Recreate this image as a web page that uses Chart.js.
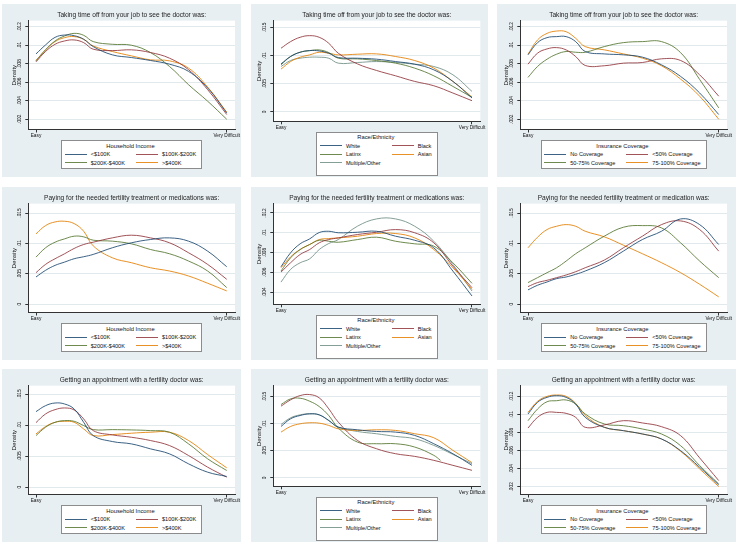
<!DOCTYPE html>
<html><head><meta charset="utf-8">
<script src="https://cdn.jsdelivr.net/npm/chart.js@4.4.1/dist/chart.umd.min.js"></script>
<style>
html,body{margin:0;padding:0;background:#fff;}
body{width:738px;height:548px;position:relative;overflow:hidden;font-family:"Liberation Sans",Arial,sans-serif;}
.panel{position:absolute;background:#E8EFF2;}
.panel canvas{position:absolute;left:0;top:0;}
.legend{position:absolute;background:#fff;border:1px solid #8C8C8C;box-sizing:border-box;display:grid;grid-template-columns:auto auto;column-gap:11px;grid-auto-rows:8.5px;padding:0.5px 5px 0.5px 2.6px;color:#111;font-size:5.6px;}
.legend .lt{grid-column:1 / span 2;text-align:center;font-size:5.8px;line-height:8.5px;color:#111;}
.legend .it{display:flex;align-items:center;white-space:nowrap;line-height:8.5px;}
.legend .key{display:inline-block;width:22px;height:0;border-top:1px solid;margin-right:4px;}
</style></head>
<body>
<script>
// ---------- data ----------
const xGrid = [0, 5, 10, 15, 20, 25, 30, 40, 50, 60, 70, 80, 90, 100];
const xGridLatinxAppt = [0, 5, 10, 15, 20, 25, 30, 40, 50, 60, 70, 80, 83.5];
const xTickValues = [0, 100];
const xTickLabels = ['Easy', 'Very Difficult'];

const incomeGroups = ['<$100K', '$100K-$200K', '$200K-$400K', '>$400K'];
const raceGroups = ['White', 'Black', 'Latinx', 'Asian', 'Multiple/Other'];
const insuranceGroups = ['No Coverage', '<50% Coverage', '50-75% Coverage', '75-100% Coverage'];
const legendTitles = ['Household Income', 'Race/Ethnicity', 'Insurance Coverage'];

const panelTitles = [
  'Taking time off from your job to see the doctor was:',
  'Taking time off from your job to see the doctor was:',
  'Taking time off from your job to see the doctor was:',
  'Paying for the needed fertility treatment or medications was:',
  'Paying for the needed fertility treatment or medications was:',
  'Paying for the needed fertility treatment or medication was:',
  'Getting an appointment with a fertility doctor was:',
  'Getting an appointment with a fertility doctor was:',
  'Getting an appointment with a fertility doctor was:'
];

// Row 1: taking time off
const timeOffIncLt100 = [.00906,.01003,.01085,.0111,.01103,.01064,.00985,.00896,.00867,.00835,.00795,.00717,.00538,.00269];
const timeOffInc100200 = [.0082,.00932,.0101,.01046,.01057,.01028,.00957,.00942,.0095,.00921,.0086,.00735,.0052,.00251];
const timeOffInc200400 = [.00831,.0095,.01046,.011,.01128,.01107,.01039,.0101,.01,.00921,.0077,.00573,.00395,.002];
const timeOffIncGt400 = [.00835,.0095,.01039,.01082,.01093,.01064,.00992,.00932,.00885,.00842,.00831,.00752,.00548,.00276];

const timeOffWhite = [.00853,.00983,.01059,.01088,.01082,.01041,.00965,.00953,.00936,.00894,.00847,.00747,.00542,.00248];
const timeOffBlack = [.0113,.01247,.01324,.01353,.01324,.01218,.01041,.00853,.00736,.00641,.00542,.00465,.00336,.002];
const timeOffLatinx = [.00836,.00983,.01059,.01088,.011,.01053,.00953,.00941,.00912,.00865,.00777,.00641,.00453,.0026];
const timeOffAsian = [.00759,.00894,.00971,.01012,.01059,.01041,.01012,.01024,.0103,.00983,.00912,.00777,.00542,.00265];
const timeOffMulti = [.00806,.00912,.00953,.00971,.00971,.00953,.00865,.00877,.00894,.00877,.00847,.00806,.00659,.00365];

const timeOffInsNone = [.00896,.01028,.01082,.01093,.01093,.01039,.00932,.00906,.00896,.00871,.00788,.00663,.00484,.00251];
const timeOffInsLt50 = [.00795,.00914,.0096,.00974,.00949,.00878,.00781,.00778,.00806,.00813,.00853,.00835,.0068,.00449];
const timeOffIns5075 = [.00652,.0077,.00849,.00903,.00932,.00924,.00924,.00985,.01028,.01039,.01039,.0092,.0063,.00323];
const timeOffIns75100 = [.00903,.01057,.01128,.01153,.01146,.01075,.00985,.0095,.00906,.0086,.00778,.00634,.00449,.002];

// Row 2: paying for treatment
const payIncLt100 = [.00448,.00557,.00639,.00693,.00748,.00781,.00819,.00928,.0101,.01064,.01091,.01037,.00873,.00617];
const payInc100200 = [.00519,.00655,.00748,.0083,.00917,.00982,.0102,.01091,.01135,.01091,.0101,.00846,.00655,.0041];
const payInc200400 = [.00775,.00928,.0102,.01075,.01119,.01108,.01053,.01037,.00993,.009,.0083,.0071,.00546,.00274];
const payIncGt400 = [.01157,.01293,.01353,.01364,.01326,.012,.0096,.00764,.00683,.006,.00546,.00464,.00345,.00219];

const payWhite = [.00656,.00797,.00888,.00938,.01002,.01015,.01,.01005,.01015,.00965,.00924,.00847,.00612,.0036];
const payBlack = [.00602,.00696,.0078,.0083,.00898,.00931,.00948,.00982,.01005,.01032,.01,.00898,.00662,.00444];
const payLatinx = [.00612,.00746,.0083,.00881,.00924,.00914,.00904,.00931,.00955,.00914,.00888,.00864,.00696,.00488];
const payAsian = [.00646,.00756,.0083,.00881,.00931,.00941,.00948,.00965,.00992,.00992,.00948,.0083,.00646,.00427];
const payMulti = [.00501,.00629,.00696,.00736,.0083,.00891,.00931,.01066,.0114,.0114,.01066,.00914,.00679,.0041];

const payInsNone = [.00236,.00312,.00366,.00421,.00448,.00492,.00546,.00683,.00873,.01064,.012,.01402,.01309,.00982];
const payInsLt50 = [.0029,.00356,.00394,.00437,.00481,.00535,.006,.00726,.00928,.01119,.01309,.0137,.01228,.00873];
const payIns5075 = [.00356,.00437,.00519,.006,.0071,.0083,.00928,.01119,.01266,.01293,.01255,.0101,.0071,.00437];
const payIns75100 = [.00928,.01102,.01228,.01282,.01309,.01282,.012,.01108,.00971,.0083,.00683,.00519,.00328,.00121];

// Row 3: getting an appointment
const apptIncLt100 = [.01216,.01312,.01355,.01339,.01259,.01044,.0083,.00734,.00696,.00616,.00535,.00374,.0024,.00171];
const apptInc100200 = [.01039,.01178,.01248,.01275,.01243,.01098,.0091,.00841,.00803,.0075,.00669,.00508,.00321,.0016];
const apptInc200400 = [.0083,.00964,.01044,.01071,.0106,.00991,.00926,.00926,.00921,.0091,.00884,.00696,.00455,.00267];
const apptIncGt400 = [.00857,.00975,.01044,.0106,.01044,.00937,.0083,.00846,.00868,.00884,.00884,.0075,.00524,.0031];

const apptWhite = [.00949,.0109,.01151,.01182,.01163,.01059,.00937,.00888,.00857,.00845,.00784,.00631,.00447,.00233];
const apptBlack = [.01323,.01439,.01518,.01537,.01476,.01274,.01029,.00692,.00539,.00447,.00398,.00325,.00233,.00141];
const apptLatinx = [.01353,.01457,.01469,.01414,.01316,.0115,.0092,.00662,.00631,.00631,.0057,.00417,.00325];
const apptAsian = [.00845,.00949,.00998,.01017,.0101,.00968,.00906,.00876,.00888,.00876,.00815,.00741,.00509,.00282];
const apptMulti = [.00986,.01108,.01163,.01182,.01163,.01059,.00937,.00857,.00815,.00766,.00723,.006,.00435,.00264];

const apptInsNone = [.01005,.01134,.01189,.01207,.01189,.01115,.00968,.00858,.00821,.00784,.00729,.006,.00416,.00221];
const apptInsLt50 = [.0085,.00968,.01023,.01023,.01012,.00968,.00858,.00884,.00931,.00906,.00865,.00766,.0052,.00269];
const apptIns5075 = [.00931,.0106,.01141,.01152,.0116,.01115,.01005,.00895,.00876,.00839,.00784,.00655,.00435,.00232];
const apptIns75100 = [.01023,.01145,.012,.01215,.012,.01123,.00987,.00858,.00821,.00784,.00729,.00593,.00398,.00203];

// y ticks per panel
const yTicksSmallStep = [.002, .004, .006, .008, .01, .012];
const yTicksSmallStepLabels = ['.002', '.004', '.006', '.008', '.01', '.012'];
const yTicksBigStep = [0, .005, .01, .015];
const yTicksBigStepLabels = ['0', '.005', '.01', '.015'];
const yTicksPayRace = [.004, .006, .008, .01, .012];
const yTicksPayRaceLabels = ['.004', '.006', '.008', '.01', '.012'];

const yMinByPanel = [.00089, -.00165, .00089, -.00136, .00276, -.00136, -.0012, -.00153, .00115];
const yMaxByPanel = [.01265, .01618, .01265, .01653, .01294, .01653, .01634, .017, .01318];

// ---------- assembly ----------
const FONT = '"Liberation Sans", Arial, sans-serif';
const stataColors = ['rgba(26,71,111,0.85)', 'rgba(144,53,59,0.85)', 'rgba(85,117,47,0.85)', 'rgba(227,126,0,0.85)', 'rgba(110,142,132,0.85)'];

const panels = [
  {groups: incomeGroups, series: [timeOffIncLt100, timeOffInc100200, timeOffInc200400, timeOffIncGt400], yt: yTicksSmallStep, yl: yTicksSmallStepLabels},
  {groups: raceGroups, series: [timeOffWhite, timeOffBlack, timeOffLatinx, timeOffAsian, timeOffMulti], yt: yTicksBigStep, yl: yTicksBigStepLabels},
  {groups: insuranceGroups, series: [timeOffInsNone, timeOffInsLt50, timeOffIns5075, timeOffIns75100], yt: yTicksSmallStep, yl: yTicksSmallStepLabels},
  {groups: incomeGroups, series: [payIncLt100, payInc100200, payInc200400, payIncGt400], yt: yTicksBigStep, yl: yTicksBigStepLabels},
  {groups: raceGroups, series: [payWhite, payBlack, payLatinx, payAsian, payMulti], yt: yTicksPayRace, yl: yTicksPayRaceLabels},
  {groups: insuranceGroups, series: [payInsNone, payInsLt50, payIns5075, payIns75100], yt: yTicksBigStep, yl: yTicksBigStepLabels},
  {groups: incomeGroups, series: [apptIncLt100, apptInc100200, apptInc200400, apptIncGt400], yt: yTicksBigStep, yl: yTicksBigStepLabels},
  {groups: raceGroups, series: [apptWhite, apptBlack, apptLatinx, apptAsian, apptMulti], yt: yTicksBigStep, yl: yTicksBigStepLabels},
  {groups: insuranceGroups, series: [apptInsNone, apptInsLt50, apptIns5075, apptIns75100], yt: yTicksSmallStep, yl: yTicksSmallStepLabels}
];

// layout (pixels)
const cols = [{x0: 2, w: 239, L: 28.3, R: 235}, {x0: 251, w: 237, L: 273.3, R: 480.3}, {x0: 497, w: 239, L: 520.3, R: 727}];
const rowsY = [4, 187, 369];
const PH = 173, PLOT_T = 16.7;
const PLOT_B = {four: 125.5, five: 117.3};
const LEG_T = {four: 136, five: 127.5};

const measureCtx = document.createElement('canvas').getContext('2d');
function textW(txt, size) { measureCtx.font = size + 'px ' + FONT; return measureCtx.measureText(txt).width; }

const plotBg = {
  id: 'plotBg',
  beforeDraw(chart) {
    const {ctx, chartArea: a} = chart;
    ctx.save(); ctx.fillStyle = '#fff';
    ctx.fillRect(a.left, a.top, a.right - a.left, a.bottom - a.top);
    ctx.restore();
  }
};

panels.forEach((p, i) => {
  const r = Math.floor(i / 3), c = i % 3;
  const col = cols[c];
  const W = col.w, H = PH;
  const kind = p.groups.length === 5 ? 'five' : 'four';
  const Lrel = col.L - col.x0, Rrel = col.R - col.x0;
  const Brel = PLOT_B[kind];

  const div = document.createElement('div');
  div.className = 'panel';
  div.style.left = col.x0 + 'px'; div.style.top = rowsY[r] + 'px';
  div.style.width = W + 'px'; div.style.height = H + 'px';
  document.body.appendChild(div);

  const cv = document.createElement('canvas');
  cv.width = W; cv.height = H;
  cv.style.width = W + 'px'; cv.style.height = H + 'px';
  div.appendChild(cv);

  const tickSize = 4.8, titleSize = 6.6, yTitleSize = 6.2;
  const widest = Math.max(...p.yl.map(t => textW(t, tickSize)));
  const yPad = 8.8 - 3 - widest / 2;
  const titleLH = titleSize * 1.2;
  const tPadTop = 11 - titleLH / 2;
  const tPadBot = PLOT_T - tPadTop - titleLH;
  const yTitlePad = (Lrel - 14.3) - yTitleSize * 1.2 / 2;

  const datasets = p.series.map((vals, k) => {
    const xs = (vals === apptLatinx) ? xGridLatinxAppt : xGrid;
    return {
      label: p.groups[k],
      data: vals.map((v, j) => ({x: xs[j], y: v})),
      borderColor: stataColors[k],
      backgroundColor: stataColors[k],
      borderWidth: 1,
      pointRadius: 0,
      fill: false,
      tension: 0.4
    };
  });

  new Chart(cv, {
    type: 'line',
    data: {datasets},
    options: {
      responsive: false, animation: false, devicePixelRatio: 1,
      layout: {padding: {left: 0, top: 0, right: W - Rrel, bottom: 0}},
      plugins: {
        legend: {display: false},
        tooltip: {enabled: false},
        title: {display: true, text: panelTitles[i], fullSize: false, color: '#1e1e1e',
          font: {family: FONT, size: titleSize, weight: 'normal'}, padding: {top: tPadTop, bottom: tPadBot}}
      },
      scales: {
        x: {
          type: 'linear', min: -4.04, max: 104.35,
          afterBuildTicks: s => { s.ticks = xTickValues.map(v => ({value: v})); },
          afterFit: s => { s.height = H - Brel; s.paddingLeft = 0; s.paddingRight = 0; },
          ticks: {autoSkip: false, maxRotation: 0, minRotation: 0, padding: 0.5, color: '#111',
            font: {family: FONT, size: tickSize}, callback: (v, idx) => xTickLabels[idx]},
          grid: {display: true, drawOnChartArea: false, drawTicks: true, tickLength: 3, tickColor: '#333', color: '#333'},
          border: {display: true, color: '#333', width: 1}
        },
        y: {
          type: 'linear', min: yMinByPanel[i], max: yMaxByPanel[i],
          afterBuildTicks: s => { s.ticks = p.yt.map(v => ({value: v})); },
          afterFit: s => { s.width = Lrel; s.paddingTop = 0; s.paddingBottom = 0; },
          ticks: {autoSkip: false, minRotation: 90, maxRotation: 90, crossAlign: 'center', padding: yPad,
            color: '#111', font: {family: FONT, size: tickSize}, callback: (v, idx) => p.yl[idx]},
          grid: {color: '#E1E9ED', lineWidth: 1, drawTicks: true, tickLength: 3, tickColor: '#333'},
          border: {display: true, color: '#333', width: 1},
          title: {display: true, text: 'Density', color: '#111', font: {family: FONT, size: yTitleSize},
            padding: {top: yTitlePad, bottom: 0}}
        }
      }
    },
    plugins: [plotBg]
  });

  // legend (HTML)
  const leg = document.createElement('div');
  leg.className = 'legend';
  const lt = document.createElement('div');
  lt.className = 'lt'; lt.textContent = legendTitles[c];
  leg.appendChild(lt);
  p.groups.forEach((g, k) => {
    const it = document.createElement('div'); it.className = 'it';
    const key = document.createElement('span'); key.className = 'key';
    key.style.borderTopColor = stataColors[k];
    const tx = document.createElement('span'); tx.textContent = g;
    it.appendChild(key); it.appendChild(tx); leg.appendChild(it);
  });
  if (kind === 'five') leg.style.paddingBottom = '7.5px';
  leg.style.top = LEG_T[kind] + 'px';
  div.appendChild(leg);
  const cx = (Lrel + Rrel) / 2;
  leg.style.left = (cx - leg.offsetWidth / 2) + 'px';
});
</script>
</body></html>
